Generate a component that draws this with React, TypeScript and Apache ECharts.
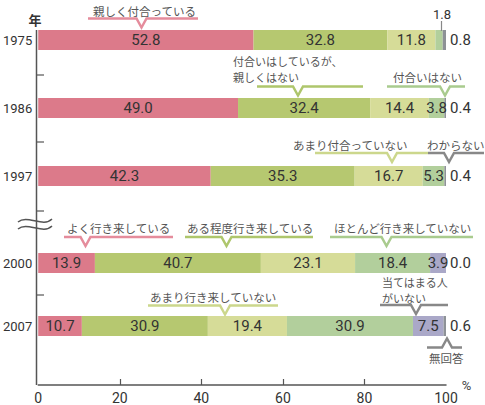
import React, { useEffect, useRef } from "react";
import * as echarts from "echarts";

// Survey A (1975-1997)
const yearsA = ["1975", "1986", "1997"];
const aClose = [52.8, 49.0, 42.3];
const aNotClose = [32.8, 32.4, 35.3];
const aRarely = [11.8, 14.4, 16.7];
const aNone = [1.8, 3.8, 5.3];
const aDontKnow = [0.8, 0.4, 0.4];
const namesA = ["親しく付合っている", "付合いはしているが、親しくはない", "あまり付合っていない", "付合いはない", "わからない"];

// Survey B (2000-2007)
const yearsB = ["2000", "2007"];
const bOften = [13.9, 10.7];
const bSomewhat = [40.7, 30.9];
const bRarely = [23.1, 19.4];
const bHardly = [18.4, 30.9];
const bNoOne = [3.9, 7.5];
const bNoAnswer = [0.0, 0.6];
const namesB = ["よく行き来している", "ある程度行き来している", "あまり行き来していない", "ほとんど行き来していない", "当てはまる人がいない", "無回答"];

const xTicks = [0, 20, 40, 60, 80, 100];

const PINK = "#dc7a8a";
const GREEN = "#b6c870";
const LIGHT = "#d6dc98";
const SAGE = "#b2cf9c";
const PURPLE = "#aaa8c8";
const GRAY = "#8e9297";

const NARROW = "'Liberation Sans Narrow', Roboto, sans-serif";
const JP = "'Noto Sans CJK JP', sans-serif";

const C_PINK = "#e58c9c";
const C_GREEN = "#aec66c";
const C_LIGHT = "#ccd78c";
const C_SAGE = "#a9cb8e";
const C_GRAY = "#888888";

function bracket(x1: number, x2: number, y: number, vx: number, color: string, up = false) {
  const d = up ? -9 : 9;
  return {
    type: "polyline",
    z: 20,
    shape: { points: [[x1, y], [vx - 5, y], [vx, y + d], [vx + 5, y], [x2, y]] },
    style: { stroke: color, lineWidth: 2.5, fill: null, lineJoin: "miter" },
  };
}

function label(text: string, x: number, y: number, fs = 11.5) {
  return {
    type: "text",
    z: 20,
    x,
    y,
    style: {
      text,
      fill: "#555",
      fontSize: fs,
      fontFamily: JP,
      align: "left",
      verticalAlign: "middle",
    },
  };
}

function line(x1: number, y1: number, x2: number, y2: number, w = 1.2, color = "#555") {
  return {
    type: "line",
    z: 15,
    shape: { x1, y1, x2, y2 },
    style: { stroke: color, lineWidth: w },
  };
}

export default function App() {
  const ref = useRef<HTMLDivElement>(null);
  useEffect(() => {
    document.body.style.margin = "0";
    if (!ref.current) return;
    const chart = echarts.init(ref.current, null, { renderer: "svg" });

    const labelBase = {
      show: true,
      color: "#333",
      fontSize: 15,
      fontFamily: NARROW,
      formatter: (p: any) => Number(p.value).toFixed(1),
    };

    const mk = (name: string, data: number[], color: string, gi: number, last: boolean, special?: (i: number) => any) => ({
      type: "bar",
      name,
      stack: "s" + gi,
      xAxisIndex: gi,
      yAxisIndex: gi,
      barWidth: 20,
      itemStyle: { color },
      label: last ? { ...labelBase, position: "right", distance: 4 } : { ...labelBase, position: "inside" },
      data: data.map((v, i) => (special ? special(i) || v : v)),
    });

    const colorsA = [PINK, GREEN, LIGHT, SAGE, GRAY];
    const dataA = [aClose, aNotClose, aRarely, aNone, aDontKnow];
    const colorsB = [PINK, GREEN, LIGHT, SAGE, PURPLE, GRAY];
    const dataB = [bOften, bSomewhat, bRarely, bHardly, bNoOne, bNoAnswer];

    const series: any[] = [];
    dataA.forEach((d, k) =>
      series.push(
        mk(namesA[k], d, colorsA[k], 0, k === dataA.length - 1, k === 3
          ? (i: number) => (i === 0 ? { value: d[i], label: { position: "top", distance: 9, offset: [3, 0], fontSize: 13 } } : null)
          : undefined)
      )
    );
    dataB.forEach((d, k) => series.push(mk(namesB[k], d, colorsB[k], 1, k === dataB.length - 1)));

    const yAxisBase = {
      type: "category",
      inverse: true,
      axisLine: { show: false },
      axisTick: { show: false },
      axisLabel: { color: "#333", fontSize: 13, fontFamily: NARROW, margin: 6 },
    };

    const option: any = {
      animation: false,
      grid: [
        { left: 36, right: 39, top: 6, height: 204 },
        { left: 36, right: 39, top: 231.5, height: 126 },
      ],
      xAxis: [
        { gridIndex: 0, type: "value", min: 0, max: 100, show: false },
        {
          gridIndex: 1,
          type: "value",
          min: xTicks[0],
          max: xTicks[xTicks.length - 1],
          interval: 20,
          offset: 27.5,
          splitLine: { show: false },
          axisLine: { show: true, lineStyle: { color: "#555", width: 1.5 } },
          axisTick: { show: true, inside: true, length: 6, customValues: xTicks.slice(1, -1), lineStyle: { color: "#555", width: 1.2 } },
          axisLabel: { color: "#333", fontSize: 14, fontFamily: NARROW, margin: 6 },
          name: "%",
          nameLocation: "end",
          nameGap: 13,
          nameTextStyle: { color: "#444", fontSize: 13, fontFamily: NARROW, verticalAlign: "middle", padding: [6, 0, 0, 0] },
        },
      ],
      yAxis: [
        { ...yAxisBase, gridIndex: 0, data: yearsA },
        { ...yAxisBase, gridIndex: 1, data: yearsB },
      ],
      series,
      graphic: [
        // vertical axis line
        { ...line(36.5, 30, 36.5, 385, 1.5), z: 1 },
        line(37, 75, 44, 75),
        line(37, 142, 44, 142),
        line(37, 211, 44, 211),
        line(37, 295, 44, 295),
        // break mark
        { type: "bezierCurve", z: 15, shape: { x1: 18, y1: 222, cpx1: 27, cpy1: 214, cpx2: 43, cpy2: 228, x2: 52, y2: 219 }, style: { stroke: "#555", lineWidth: 1.5, fill: null } },
        { type: "bezierCurve", z: 15, shape: { x1: 18, y1: 229, cpx1: 27, cpy1: 221, cpx2: 43, cpy2: 235, x2: 52, y2: 226 }, style: { stroke: "#555", lineWidth: 1.5, fill: null } },
        // 年
        { type: "text", z: 20, x: 35, y: 19, style: { text: "年", fill: "#333", fontSize: 13, fontWeight: "bold", fontFamily: JP, align: "center", verticalAlign: "middle" } },
        // 1.8 leader
        line(441.5, 21, 441.5, 31, 1.2, "#888"),
        // callouts A
        label("親しく付合っている", 93, 11),
        bracket(88, 198, 18.5, 141.5, C_PINK),
        label("付合いはしているが、", 233, 61, 11),
        label("親しくはない", 233, 77, 11),
        bracket(257, 363, 86.5, 298, C_GREEN),
        label("付合いはない", 393, 77),
        bracket(387, 465, 86.5, 445, C_SAGE),
        label("あまり付合っていない", 293, 145),
        bracket(315, 428, 153, 392, C_LIGHT),
        label("わからない", 427, 145),
        bracket(428, 484, 153, 449, C_GRAY),
        // callouts B
        label("よく行き来している", 67, 228),
        bracket(64, 173, 237, 85.5, C_PINK),
        label("ある程度行き来している", 187, 228),
        bracket(185, 313, 237, 226.5, C_GREEN),
        label("ほとんど行き来していない", 334, 228),
        bracket(330, 473, 237, 386.5, C_SAGE),
        label("あまり行き来していない", 150, 297),
        bracket(148, 278, 305.5, 225, C_LIGHT),
        label("当てはまる人", 382, 281.5, 11),
        label("がいない", 382, 297.5, 11),
        bracket(380, 448, 305, 416, C_GRAY),
        bracket(427, 462, 347.5, 447, C_GRAY, true),
        label("無回答", 429, 358),
      ],
    };

    chart.setOption(option);
    return () => chart.dispose();
  }, []);
  return <div ref={ref} style={{ width: 485, height: 405 }} />;
}
